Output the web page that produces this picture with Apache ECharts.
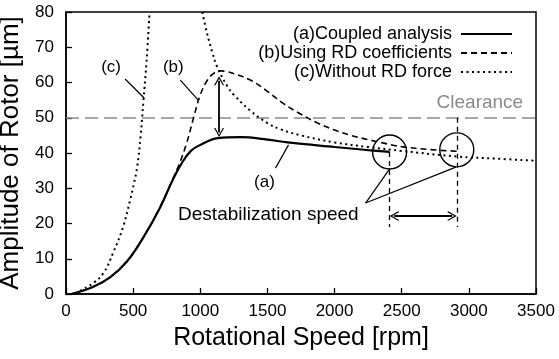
<!DOCTYPE html>
<html><head><meta charset="utf-8">
<script src="https://cdn.jsdelivr.net/npm/echarts@6/dist/echarts.min.js"></script>
<style>html,body{margin:0;padding:0;background:#fff}#c{width:559px;height:359px}</style>
</head><body><div id="c"></div>
<script>
// ---- data ----
const xTickValues = [0, 500, 1000, 1500, 2000, 2500, 3000, 3500];
const yTickValues = [0, 10, 20, 30, 40, 50, 60, 70, 80];

const speedA = [40, 200, 330, 455, 575, 700, 790, 860, 930, 1000, 1130, 1300, 1500, 1650, 2000, 2200, 2410];
const ampA   = [0, 2, 4.8, 9.3, 16, 24.5, 32, 37, 40.6, 42.3, 44.2, 44.5, 43.8, 43, 41.7, 41, 40.3];

const speedB = [40, 200, 330, 455, 575, 700, 800, 850, 900, 950, 1000, 1050, 1100, 1150, 1200, 1250, 1373, 1500, 1620, 1750, 1873, 2000, 2120, 2250, 2366, 2500, 2700, 2910];
const ampB   = [0, 2, 4.8, 9.3, 16, 24.7, 33, 37.5, 43, 50, 56.5, 60.5, 62.6, 63.3, 63.1, 62.5, 60.7, 57.5, 54, 51, 48.5, 46.5, 45, 43.8, 42.8, 41.8, 41, 40.5];

const speedC1 = [70, 100, 200, 280, 350, 425, 478, 507, 530, 555, 577, 600, 622];
const ampC1   = [0, 0.8, 3, 6, 11.6, 19, 26.7, 31.5, 36, 44.5, 55, 66, 80];

const speedC2 = [1015, 1050, 1090, 1125, 1200, 1250, 1373, 1500, 1600, 1750, 2000, 2250, 2500, 2910, 3200, 3500];
const ampC2   = [80, 74, 68.5, 64.5, 59, 56.5, 52, 48.5, 46.7, 45, 43, 41.7, 40.6, 39, 38.4, 37.8];

const seriesNames = ['(a)Coupled analysis', '(b)Using RD coefficients', '(c)Without RD force'];

const clearance = 50;
const destabSpeeds = [2410, 2910];
const destabAmps = [40.3, 40.9];

// annotation texts and anchors (data coordinates)
const noteTexts = ['(c)', '(b)', '(a)', 'Destabilization speed', 'Clearance'];
const noteX = [336, 799, 1478, 1507, 3082];
const noteY = [64.4, 64.4, 31.8, 22.4, 54.2];

// leader segments (data coordinates)
const leaderFrom = [[440, 61], [851, 60.7], [1560, 35.7], [2231, 25.8], [2231, 25.8]];
const leaderTo   = [[582, 55.6], [985, 55], [1657, 42.3], [2410, 35.5], [2903, 36]];

// double arrows (data coordinates)
const arrowFrom = [[1140, 60.5], [2444, 22.1]];
const arrowTo   = [[1140, 45.8], [2876, 22.1]];
const guideBottom = 19;

// ---- build ----
const zip = (xs, ys) => xs.map((x, i) => [x, ys[i]]);
const font = 'Liberation Sans, Arial, Helvetica, sans-serif';
const chevron = 'path://M0,12 L6,0 L12,12 L10.4,12 L6,3.2 L1.6,12 Z';

const lineBase = { type: 'line', symbol: 'none', smooth: 0.4, silent: true, z: 3 };

const markLines = [];
markLines.push({ yAxis: clearance, lineStyle: { color: '#8a8a8a', type: [13, 6], width: 1.5 } });
leaderFrom.forEach((p, i) => {
  markLines.push([{ coord: p, lineStyle: { color: '#000', width: 1.2, type: 'solid' } }, { coord: leaderTo[i] }]);
});
markLines.push([{ coord: [destabSpeeds[0], destabAmps[0]], lineStyle: { color: '#000', width: 1.3, type: [5, 4] } }, { coord: [destabSpeeds[0], guideBottom] }]);
markLines.push([{ coord: [destabSpeeds[1], clearance], lineStyle: { color: '#000', width: 1.3, type: [5, 4] } }, { coord: [destabSpeeds[1], guideBottom] }]);
arrowFrom.forEach((p, i) => {
  markLines.push([
    { coord: p, symbol: chevron, symbolSize: [10, 9], lineStyle: { color: '#000', width: 1.8, type: 'solid' } },
    { coord: arrowTo[i], symbol: chevron, symbolSize: [10, 9] }
  ]);
});

const noteStyles = [
  { fontSize: 17, color: '#000' },
  { fontSize: 17, color: '#000' },
  { fontSize: 17, color: '#000' },
  { fontSize: 19, color: '#000' },
  { fontSize: 19, color: '#8a8a8a' }
];

const option = {
  animation: false,
  backgroundColor: '#fff',
  grid: { left: 66, right: 23, top: 12, bottom: 65, containLabel: false, outerBoundsMode: 'none', show: true, borderColor: '#000', borderWidth: 1.5, backgroundColor: 'transparent' },
  legend: {
    data: seriesNames,
    orient: 'vertical', right: 41, top: 20, align: 'right',
    itemWidth: 51, itemHeight: 10, itemGap: 1,
    itemStyle: { opacity: 0 },
    textStyle: { fontSize: 18, color: '#000', fontFamily: font, padding: [0, 4, 0, 0] },
    selectedMode: false
  },
  xAxis: {
    type: 'value', min: xTickValues[0], max: xTickValues[xTickValues.length - 1], interval: 500,
    name: 'Rotational Speed [rpm]', nameLocation: 'middle', nameGap: 32,
    nameTextStyle: { fontSize: 25, color: '#000', fontFamily: font },
    axisLine: { show: true, lineStyle: { color: '#000', width: 1.5 } },
    axisTick: { show: true, inside: true, length: 6, lineStyle: { color: '#000', width: 1.3 } },
    axisLabel: { fontSize: 17, color: '#000', fontFamily: font, margin: 9, formatter: v => String(v) },
    splitLine: { show: false }
  },
  yAxis: {
    type: 'value', min: yTickValues[0], max: yTickValues[yTickValues.length - 1], interval: 10,
    name: 'Amplitude of Rotor [µm]', nameLocation: 'middle', nameGap: 33,
    nameTextStyle: { fontSize: 26, color: '#000', fontFamily: font },
    axisLine: { show: true, lineStyle: { color: '#000', width: 1.5 } },
    axisTick: { show: true, inside: true, length: 6, lineStyle: { color: '#000', width: 1.3 } },
    axisLabel: { fontSize: 17, color: '#000', fontFamily: font, margin: 12, formatter: v => String(v) },
    splitLine: { show: false }
  },
  series: [
    Object.assign({}, lineBase, { name: seriesNames[0], data: zip(speedA, ampA), lineStyle: { color: '#000', width: 2.2, type: 'solid' }, itemStyle: { color: '#000' } }),
    Object.assign({}, lineBase, { name: seriesNames[1], data: zip(speedB, ampB), lineStyle: { color: '#000', width: 1.6, type: [6, 4] }, itemStyle: { color: '#000' } }),
    Object.assign({}, lineBase, { name: seriesNames[2], data: zip(speedC1, ampC1), lineStyle: { color: '#000', width: 2, type: [2, 3.5] }, itemStyle: { color: '#000' } }),
    Object.assign({}, lineBase, { name: seriesNames[2], data: zip(speedC2, ampC2), lineStyle: { color: '#000', width: 2, type: [2, 3.5] }, itemStyle: { color: '#000' } }),
    {
      type: 'scatter', name: 'circles', silent: true, z: 4,
      symbol: 'circle', symbolSize: 34,
      itemStyle: { color: 'rgba(0,0,0,0)', borderColor: '#000', borderWidth: 1.4, opacity: 1 },
      data: zip(destabSpeeds, destabAmps)
    },
    {
      type: 'scatter', name: 'notes', silent: true, z: 5, symbolSize: 0,
      itemStyle: { opacity: 1, color: '#000' },
      data: noteTexts.map((t, i) => ({
        value: [noteX[i], noteY[i]],
        label: Object.assign({ show: true, position: 'inside', formatter: t, fontFamily: font, opacity: 1 }, noteStyles[i])
      })),
      markLine: { silent: true, symbol: ['none', 'none'], label: { show: false }, data: markLines, z: 2 }
    }
  ]
};

const chart = echarts.init(document.getElementById('c'), null, { renderer: 'canvas' });
chart.setOption(option);
</script>
</body></html>
